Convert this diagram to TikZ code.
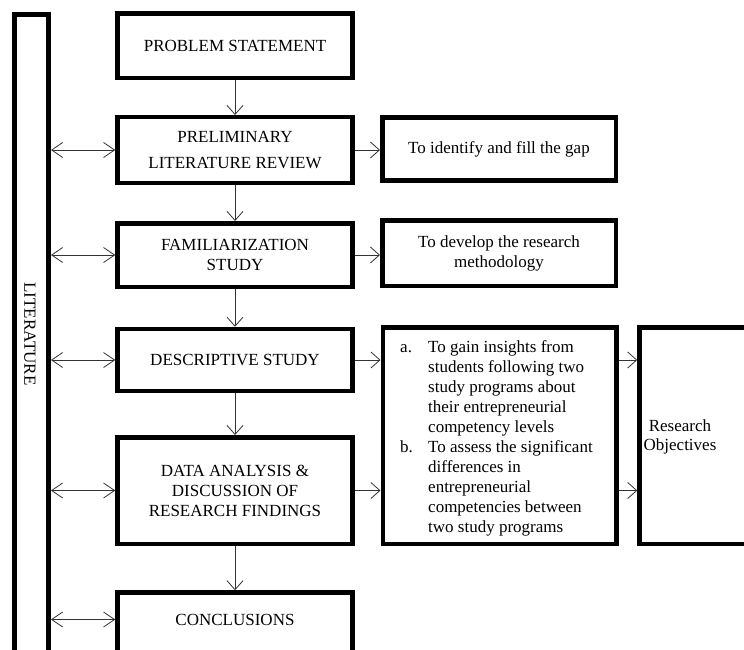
\documentclass[tikz,border=0pt]{standalone}
\usepackage{fontspec}
\setmainfont{Liberation Serif}
\usetikzlibrary{arrows.meta}
\begin{document}
\begin{tikzpicture}[x=1pt,y=-1pt,
  box/.style={draw=black, line width=4.5pt, inner sep=0pt, align=center,
    font=\fontsize{17}{20}\selectfont},
  mainbox/.style={box, minimum width=235pt},
  sidebox/.style={box, minimum width=233.5pt},
  lbl/.style={inner sep=0pt, align=center, font=\fontsize{17}{20}\selectfont},
  flow/.style={draw=black!80, line width=0.8pt, -{Straight Barb[length=9pt,width=16pt]}},
  both/.style={draw=black!80, line width=0.8pt,
    {Straight Barb[length=11pt,width=15pt]}-{Straight Barb[length=11pt,width=15pt]}}
]
\useasboundingbox (0,0) rectangle (744,650);
\begin{scope}
\clip (0,0) rectangle (744,650);
% left bar
\node[box, anchor=north, minimum width=34.4pt, minimum height=720pt] (bar) at (31.5,12.3) {};
\node[lbl, rotate=-90] (lit) at (30,334) {LITERATURE};
% main column
\node[mainbox, minimum height=64.5pt] (ps) at (235,45.7) {PROBLEM STATEMENT};
\node[mainbox, minimum height=65.5pt, font=\fontsize{17}{26}\selectfont] (plr) at (235,150) {PRELIMINARY\\LITERATURE REVIEW};
\node[mainbox, minimum height=63.5pt] (fam) at (235,255) {FAMILIARIZATION\\STUDY};
\node[mainbox, minimum height=62pt] (des) at (235,360) {DESCRIPTIVE STUDY};
\node[mainbox, minimum height=106.5pt] (dat) at (235,490.5) {DATA ANALYSIS \&\\DISCUSSION OF\\RESEARCH FINDINGS};
\node[mainbox, anchor=north, minimum height=120pt] (con) at (235,590.3) {};
\node[lbl] (contxt) at (235,619.5) {CONCLUSIONS};
% right column
\node[sidebox, minimum height=63.4pt] (id) at (499,149) {To identify and fill the gap};
\node[sidebox, minimum height=65.5pt] (dev) at (499,253.3) {To develop the research\\methodology};
\node[sidebox, minimum height=216.5pt] (obj) at (499.5,435.5) {};
\node[lbl, anchor=north west, align=left] (objtxt) at (400,340) {%
\makebox[28pt][l]{a.}To gain insights from\\
\hspace*{28pt}students following two\\
\hspace*{28pt}study programs about\\
\hspace*{28pt}their entrepreneurial\\
\hspace*{28pt}competency levels\\
\makebox[28pt][l]{b.}To assess the significant\\
\hspace*{28pt}differences in\\
\hspace*{28pt}entrepreneurial\\
\hspace*{28pt}competencies between\\
\hspace*{28pt}two study programs};
\node[box, anchor=west, minimum width=160pt, minimum height=216.5pt] (ro) at (637.3,435.5) {};
\node[lbl, font=\fontsize{17}{19}\selectfont] (rotxt) at (680,437) {Research\\Objectives};
% vertical flow
\draw[flow] (ps.south) -- (ps.south |- plr.north);
\draw[flow] (plr.south) -- (plr.south |- fam.north);
\draw[flow] (fam.south) -- (fam.south |- des.north);
\draw[flow] (des.south) -- (des.south |- dat.north);
\draw[flow] (dat.south) -- (dat.south |- con.north);
% literature links
\draw[both] (bar.east |- plr.west) -- (plr.west);
\draw[both] (bar.east |- fam.west) -- (fam.west);
\draw[both] (bar.east |- des.west) -- (des.west);
\draw[both] (bar.east |- dat.west) -- (dat.west);
\draw[both] (bar.east |- contxt.west) -- (con.west |- contxt.west);
% side links
\draw[flow] (plr.east) -- (id.west |- plr.east);
\draw[flow] (fam.east) -- (dev.west |- fam.east);
\draw[flow] (des.east) -- (obj.west |- des.east);
\draw[flow] (dat.east) -- (obj.west |- dat.east);
\draw[flow] (obj.east |- des.east) -- (ro.west |- des.east);
\draw[flow] (obj.east |- dat.east) -- (ro.west |- dat.east);
\end{scope}
\end{tikzpicture}
\end{document}
